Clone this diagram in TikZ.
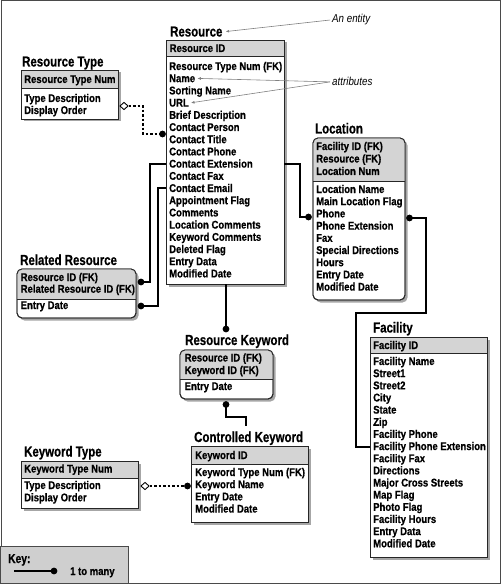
\documentclass[tikz,border=0pt]{standalone}
\usepackage{fontspec}
\newfontfamily\condf{Liberation Sans}[FakeStretch=0.85, BoldFeatures={FakeBold=0.6}]
\newfontfamily\ttlf{Liberation Sans}[FakeStretch=0.79, BoldFeatures={FakeBold=0.6}]
\usetikzlibrary{shapes.geometric,shadows,arrows.meta,calc}
\definecolor{hdrgray}{HTML}{D4D4D4}
\definecolor{keygray}{HTML}{CFCFCF}
\definecolor{framegray}{HTML}{4A4A4A}
\definecolor{annogray}{HTML}{808080}
\tikzset{
 ebox/.style={draw=black!85, line width=0.9bp, fill=white, inner sep=0pt, outer sep=0pt,
   drop shadow={shadow xshift=2.5bp, shadow yshift=-2.5bp, fill=black, opacity=0.35}},
 hdrfill/.style={fill=hdrgray},
 boxline/.style={draw=black!85, line width=0.9bp},
 row/.style={anchor=base west, inner sep=0pt, font=\condf\bfseries\fontsize{11.2bp}{12bp}\selectfont},
 ttl/.style={anchor=base west, inner sep=0pt, font=\ttlf\bfseries\fontsize{14.5bp}{16bp}\selectfont},
 anno/.style={anchor=base west, inner sep=0pt, font=\condf\itshape\fontsize{11.5bp}{13bp}\selectfont},
 conn/.style={line width=1.2bp, black},
 dconn/.style={conn, dash pattern=on 2.5bp off 2bp},
 diam/.style={diamond, draw, fill=white, line width=0.9bp, inner sep=0pt, minimum width=8.5bp, minimum height=7.5bp},
 annoline/.style={draw=annogray, line width=0.6bp},
}
% #1 name #2 x #3 y #4 w #5 h #6 header h #7 radius
\newcommand\ent[7]{%
 \node[ebox, rounded corners=#7, minimum width=#4bp, minimum height=#5bp, anchor=north west] (#1) at (#2,#3) {};
 \begin{scope}
   \clip[rounded corners=#7] (#1.north west) rectangle (#1.south east);
   \fill[hdrfill] (#1.north west) rectangle ([yshift=-#6bp]#1.north east);
 \end{scope}
 \draw[boxline, rounded corners=#7] (#1.north west) rectangle (#1.south east);
 \draw[boxline] ([yshift=-#6bp]#1.north west) -- ([yshift=-#6bp]#1.north east);
}
% #1 prefix #2 x #3 first baseline #4 step #5 list
\newcommand\rows[5]{%
 \foreach \t [count=\i] in {#5} \node[row] (#1\i) at ({#2},{#3+#4*(\i-1)}) {\t};
}
\newcommand\dotat[1]{\fill (#1) circle (3.4bp);}
\begin{document}
\begin{tikzpicture}[x=1bp,y=-1bp]
\useasboundingbox (0,0) rectangle (502,584);
\draw[framegray, line width=1bp] (1,1) rectangle (500.5,583.5);

% ---------- Resource
\node[ttl] (resT) at (170,36.5) {Resource};
\ent{res}{166}{40}{118}{244}{16}{0bp}
\node[row] (resH) at (169.5,52) {Resource ID};
\rows{res}{169}{70}{12.2}{Resource Type Num (FK),Name,Sorting Name,URL,Brief Description,Contact Person,Contact Title,Contact Phone,Contact Extension,Contact Fax,Contact Email,Appointment Flag,Comments,Location Comments,Keyword Comments,Deleted Flag,Entry Data,Modified Date}

% ---------- Resource Type
\node[ttl] (rtT) at (22,66.5) {Resource Type};
\ent{rt}{21}{70}{97}{49}{18}{0bp}
\node[row] (rtH) at (24,83) {Resource Type Num};
\rows{rt}{24}{102}{12}{Type Description,Display Order}

% ---------- Location
\node[ttl] (locT) at (315,133.5) {Location};
\ent{loc}{313}{138}{92}{162}{43}{5bp}
\rows{locH}{316}{150}{12.5}{Facility ID (FK),Resource (FK),Location Num}
\rows{loc}{316}{193}{12.2}{Location Name,Main Location Flag,Phone,Phone Extension,Fax,Special Directions,Hours,Entry Date,Modified Date}

% ---------- Facility
\node[ttl] (facT) at (373,332.5) {Facility};
\ent{fac}{370}{337}{117}{220}{16}{0bp}
\node[row] (facH) at (373,349) {Facility ID};
\rows{fac}{373}{365}{12.15}{Facility Name,Street1,Street2,City,State,Zip,Facility Phone,Facility Phone Extension,Facility Fax,Directions,Major Cross Streets,Map Flag,Photo Flag,Facility Hours,Entry Data,Modified Date}

% ---------- Related Resource
\node[ttl] (rrT) at (20,265) {Related Resource};
\ent{rr}{17}{269}{119}{49}{30}{5bp}
\rows{rrH}{20.5}{281}{11.7}{Resource ID (FK),Related Resource ID (FK)}
\node[row] (rr1) at (20.5,309) {Entry Date};

% ---------- Resource Keyword
\node[ttl] (rkT) at (185,345) {Resource Keyword};
\ent{rk}{180}{350}{93}{49}{29}{5bp}
\rows{rkH}{184.5}{361.5}{12.5}{Resource ID (FK),Keyword ID (FK)}
\node[row] (rk1) at (184.5,390) {Entry Date};

% ---------- Controlled Keyword
\node[ttl] (ckT) at (194,442) {Controlled Keyword};
\ent{ck}{191}{446}{117}{76}{18}{0bp}
\node[row] (ckH) at (195,459) {Keyword ID};
\rows{ck}{195}{476}{12.2}{Keyword Type Num (FK),Keyword Name,Entry Date,Modified Date}

% ---------- Keyword Type
\node[ttl] (ktT) at (24,456.5) {Keyword Type};
\ent{kt}{21}{461}{117}{47}{17}{0bp}
\node[row] (ktH) at (24,472.5) {Keyword Type Num};
\rows{kt}{24}{489}{12.3}{Type Description,Display Order}

% ---------- connectors
% Resource Type -> Resource (dashed)
\node[diam] (dm1) at (124,106) {};
\coordinate (dd1) at (162.5,134);
\draw[dconn] (dm1.east) -| (143,134) -- (dd1);
\dotat{dd1}

% Resource -> Related Resource
\coordinate (rrd1) at (141,282);
\coordinate (rrd2) at (141,306);
\draw[conn] (res.west |- 0,164) -| (150,282) -- (rrd1);
\draw[conn] (res.west |- 0,188) -| (158,306) -- (rrd2);
\dotat{rrd1}\dotat{rrd2}

% Resource -> Location
\coordinate (locd) at (308.5,217);
\draw[conn] (res.east |- 0,164) -| (300,217) -- (locd);
\dotat{locd}

% Location -> Facility
\coordinate (locd2) at (409.5,218);
\draw[conn] (locd2) -| (426,313) -| (356,447) -- (fac.west |- 0,447);
\dotat{locd2}

% Resource -> Resource Keyword
\coordinate (rkd) at (226,329);
\draw[conn] (res.south -| rkd) -- (rkd);
\dotat{rkd}

% Resource Keyword -> Controlled Keyword
\coordinate (rkd2) at (226,404.5);
\coordinate (ckc) at (246,426);
\draw[conn] (rkd2) -- (226,417) -| (ckc);
\dotat{rkd2}

% Keyword Type -> Controlled Keyword (dashed)
\node[diam] (dm2) at (145,486) {};
\coordinate (ckd) at (187.5,486);
\draw[dconn] (dm2.east) -- (ckd);
\dotat{ckd}

% ---------- annotations
\node[anno] (ent) at (332,23) {An entity};
\node[anno] (attr) at (332,86) {attributes};
\draw[annoline, -{Latex[length=3.5bp,width=2.8bp]}] ([xshift=-2bp]ent.west) -- ([xshift=3bp]resT.east);
\draw[annoline, -{Latex[length=3.5bp,width=2.8bp]}] ([xshift=-2bp]attr.west) -- ([xshift=2bp]res2.east);
\draw[annoline, -{Latex[length=3.5bp,width=2.8bp]}] ([xshift=-2bp]attr.west) -- ([xshift=2bp]res4.east);

% ---------- key
\node[draw=framegray, fill=keygray, line width=1bp, inner sep=0pt, outer sep=0pt, minimum width=127.5bp, minimum height=37.5bp, anchor=north west] (key) at (0.5,546) {};
\node[ttl, font=\ttlf\bfseries\fontsize{13bp}{15bp}\selectfont] (keyT) at (8,563) {Key:};
\coordinate (keyd) at (54,571);
\draw[conn] (14,571) -- (keyd);
\dotat{keyd}
\node[row] (keyL) at (70,575) {1 to many};
\end{tikzpicture}
\end{document}
